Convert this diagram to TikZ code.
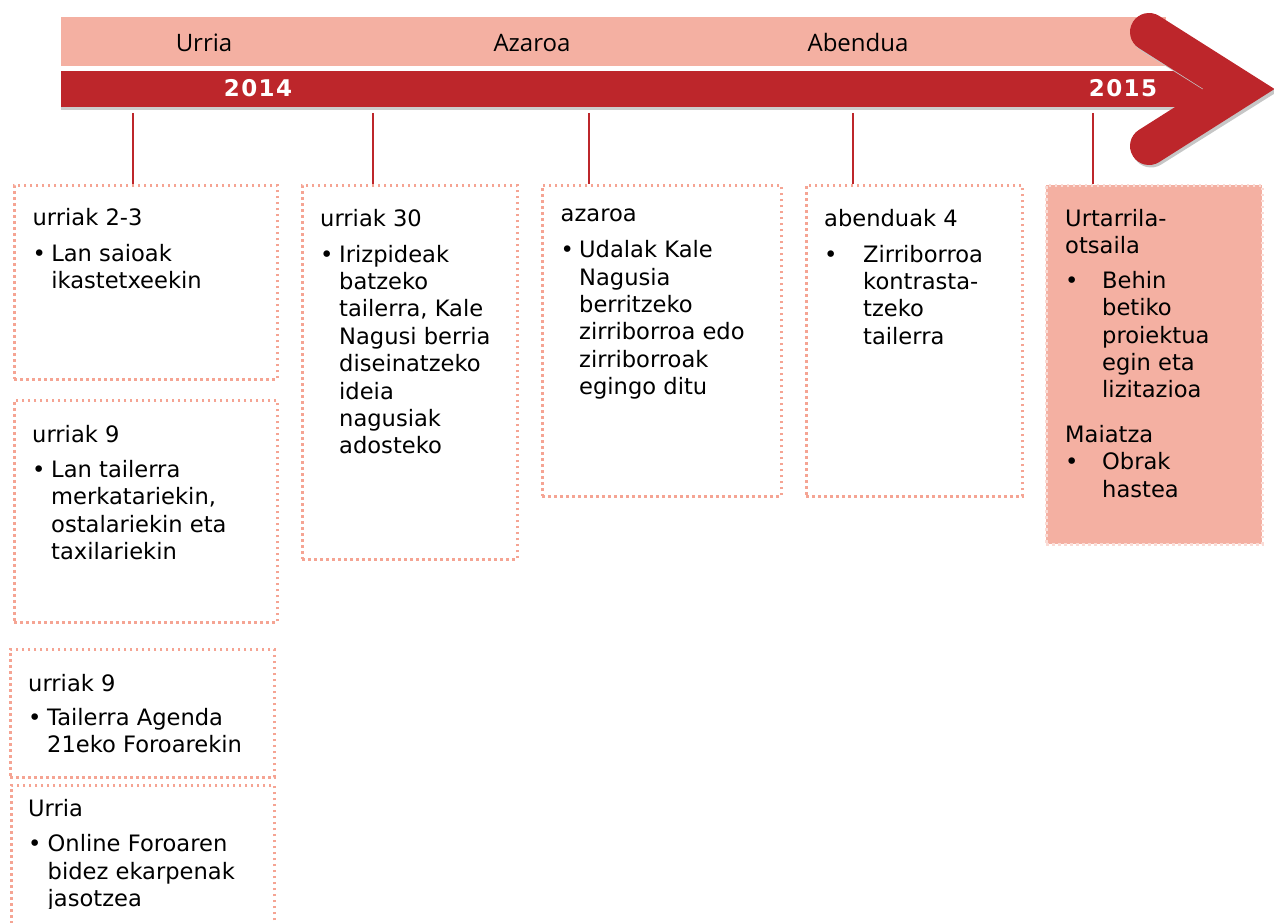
\documentclass[tikz,border=0pt]{standalone}
\usepackage{fontspec}
\setmainfont{DejaVu Sans}
\newfontfamily\monthfont{Open Sans}
\newfontfamily\yearfont[LetterSpace=6]{DejaVu Sans}
\definecolor{salmon}{RGB}{244,176,162}
\definecolor{darkred}{RGB}{189,38,43}
\definecolor{dotline}{RGB}{245,164,147}
\newcommand{\itm}[1]{\makebox[#1][l]{\textbullet}}
\newcommand{\indnt}[1]{\hspace*{#1}}
\tikzset{
  evbox/.style={draw=dotline, line width=2.9pt, dash pattern=on 2.9pt off 3.1pt, inner sep=0pt, anchor=north west},
  evtext/.style={anchor=north west, yshift=19.18pt, inner sep=0pt, align=left, font=\fontsize{22.6}{27.4}\selectfont, execute at begin node=\strut},
  month/.style={anchor=base, inner sep=0pt, font=\monthfont\fontsize{24}{28}\selectfont},
  year/.style={anchor=base, inner sep=0pt, text=white, font=\yearfont\bfseries\fontsize{23}{28}\selectfont},
  tick/.style={darkred, line width=2.5pt},
}
\begin{document}
\begin{tikzpicture}[x=1pt, y=-1pt]
\useasboundingbox (0,0) rectangle (1274,923);
% time bands
\fill[salmon] (61,17) rectangle (1166,66);
\fill[gray!40] (61,107) rectangle (1200,110.5);
\fill[darkred] (61,71) rectangle (1205,107);
\draw[gray!45, line width=38pt, line cap=round, line join=miter] (1151,34.5) -- (1242,91.5) -- (1151,148.5);
\draw[darkred, line width=38pt, line cap=round, line join=miter] (1149,32) -- (1239,89) -- (1149,146);
\node[month] (m1) at (204,52) {Urria};
\node[month] (m2) at (532,52) {Azaroa};
\node[month] (m3) at (858,52) {Abendua};
\node[year] (y1) at (258,96.5) {2014};
\node[year] (y2) at (1123,96.5) {2015};
% boxes
\node[evbox, minimum width=263pt, minimum height=194pt] (b1) at (13,184) {};
\node[evbox, minimum width=263pt, minimum height=222pt] (b2) at (13,399) {};
\node[evbox, minimum width=264pt, minimum height=128pt] (b3) at (9,648) {};
\node[evbox, minimum width=263pt, minimum height=160pt] (b4) at (10,784) {};
\node[evbox, minimum width=215pt, minimum height=374pt] (c2) at (301,184) {};
\node[evbox, minimum width=239pt, minimum height=311pt] (c3) at (541,184) {};
\node[evbox, minimum width=216pt, minimum height=311pt] (c4) at (805,184) {};
\node[evbox, fill=salmon, draw=salmon!45!white, minimum width=216pt, minimum height=359pt] (c5) at (1045,184) {};
% ticks
\coordinate (k1) at (133,113);
\coordinate (k2) at (373,113);
\coordinate (k3) at (589,113);
\coordinate (k4) at (853,113);
\coordinate (k5) at (1093,113);
\draw[tick] (k1) -- (k1 |- b1.north);
\draw[tick] (k2) -- (k2 |- c2.north);
\draw[tick] (k3) -- (k3 |- c3.north);
\draw[tick] (k4) -- (k4 |- c4.north);
\draw[tick] (k5) -- (k5 |- c5.north);
% texts
\node[evtext] (tb1) at (32.4,227) {urriak 2-3\\[8.6pt]\itm{18.7pt}Lan saioak\\\indnt{18.7pt}ikastetxeekin};
\node[evtext] (tb2) at (32,444) {urriak 9\\[7.9pt]\itm{19pt}Lan tailerra\\\indnt{19pt}merkatariekin,\\\indnt{19pt}ostalariekin eta\\\indnt{19pt}taxilariekin};
\node[evtext] (tb3) at (28,693) {urriak 9\\[7pt]\itm{19pt}Tailerra Agenda\\\indnt{19pt}21eko Foroarekin};
\begin{scope}
\clip (0,784) rectangle (300,908);
\node[evtext] (tb4) at (28,818) {Urria\\[8pt]\itm{19.5pt}Online Foroaren\\\indnt{19.5pt}bidez ekarpenak\\\indnt{19.5pt}jasotzea};
\end{scope}
\node[evtext] (tc2) at (320,228) {urriak 30\\[8.6pt]\itm{19pt}Irizpideak\\\indnt{19pt}batzeko\\\indnt{19pt}tailerra, Kale\\\indnt{19pt}Nagusi berria\\\indnt{19pt}diseinatzeko\\\indnt{19pt}ideia\\\indnt{19pt}nagusiak\\\indnt{19pt}adosteko};
\node[evtext] (tc3) at (560.5,228) {azaroa\\[8.6pt]\itm{18.5pt}Udalak Kale\\\indnt{18.5pt}Nagusia\\\indnt{18.5pt}berritzeko\\\indnt{18.5pt}zirriborroa edo\\\indnt{18.5pt}zirriborroak\\\indnt{18.5pt}egingo ditu};
\node[evtext] (tc4) at (824,228) {abenduak 4\\[8.6pt]\itm{39pt}Zirriborroa\\\indnt{39pt}kontrasta-\\\indnt{39pt}tzeko\\\indnt{39pt}tailerra};
\node[evtext] (tc5) at (1065,228) {Urtarrila-\\otsaila\\[7.3pt]\itm{37pt}Behin\\\indnt{37pt}betiko\\\indnt{37pt}proiektua\\\indnt{37pt}egin eta\\\indnt{37pt}lizitazioa\\[17pt]Maiatza\\\itm{37pt}Obrak\\\indnt{37pt}hastea};
\end{tikzpicture}
\end{document}
